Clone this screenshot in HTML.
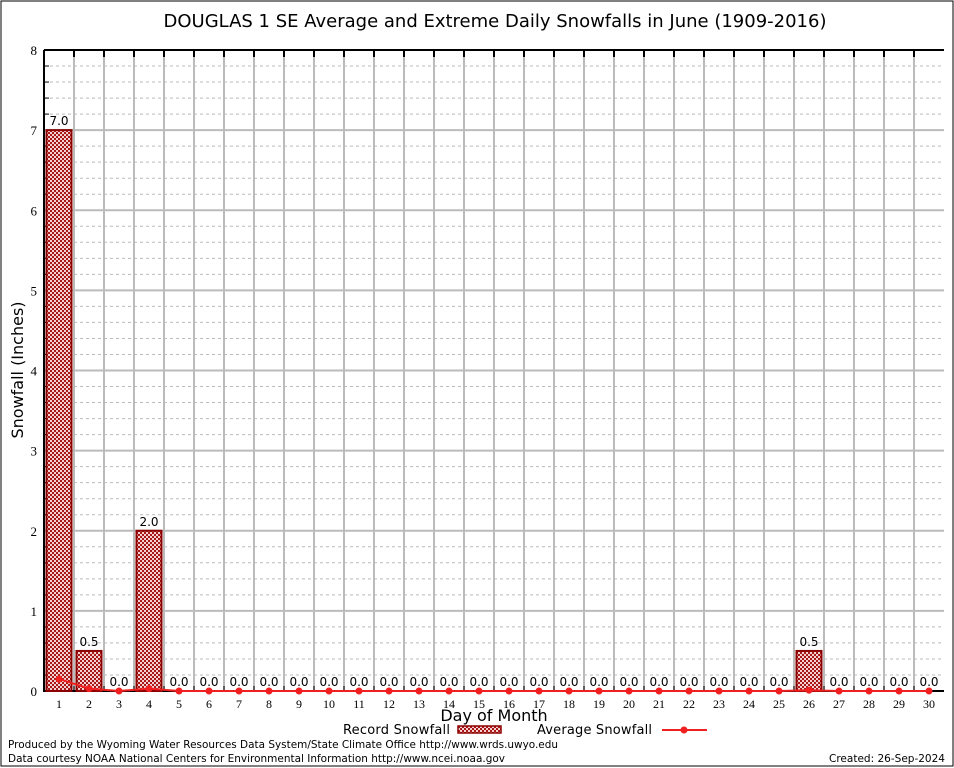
<!DOCTYPE html>
<html><head><meta charset="utf-8"><style>
html,body{margin:0;padding:0;background:#fff;}
svg{display:block;}
text{font-family:"DejaVu Sans","Liberation Sans",sans-serif;}
</style></head><body>
<svg id="chart" width="954" height="768" xmlns="http://www.w3.org/2000/svg">
<defs>
<pattern id="chk" width="4" height="4" patternUnits="userSpaceOnUse">
<rect width="4" height="4" fill="#f4d0d0"/>
<rect width="2" height="2" fill="#a81818"/>
<rect x="2" y="2" width="2" height="2" fill="#a81818"/>
</pattern>
</defs>
<rect x="1" y="1" width="952" height="765" fill="#fff" stroke="#000" stroke-width="1"/>
<text x="495" y="27" font-size="18" text-anchor="middle">DOUGLAS 1 SE Average and Extreme Daily Snowfalls in June (1909-2016)</text>
<text transform="translate(23,370) rotate(-90)" font-size="16" text-anchor="middle">Snowfall (Inches)</text>
<text x="494" y="721" font-size="16" text-anchor="middle">Day of Month</text>
<g id="grid"></g>
<g id="marks"></g>
<g>
<text x="343" y="734" font-size="13" textLength="107">Record Snowfall</text>
<rect x="458" y="726" width="43" height="7" fill="url(#chk)" stroke="#8b0000" stroke-width="1.5"/>
<text x="537" y="734" font-size="13" textLength="115">Average Snowfall</text>
<line x1="662" y1="730" x2="707" y2="730" stroke="#f02020" stroke-width="2"/>
<circle cx="684" cy="730" r="3.5" fill="#f02020"/>
</g>
<text x="8" y="748" font-size="11" textLength="550" lengthAdjust="spacingAndGlyphs">Produced by the Wyoming Water Resources Data System/State Climate Office http://www.wrds.uwyo.edu</text>
<text x="8" y="762" font-size="11" textLength="497" lengthAdjust="spacingAndGlyphs">Data courtesy NOAA National Centers for Environmental Information http://www.ncei.noaa.gov</text>
<text x="945" y="762" font-size="11" text-anchor="end" textLength="116" lengthAdjust="spacingAndGlyphs">Created:  26-Sep-2024</text>
</svg>
<script>
const days = [1,2,3,4,5,6,7,8,9,10,11,12,13,14,15,16,17,18,19,20,21,22,23,24,25,26,27,28,29,30];
const recordSnow = [7.0,0.5,0,2.0,0,0,0,0,0,0,0,0,0,0,0,0,0,0,0,0,0,0,0,0,0,0.5,0,0,0,0];
const avgSnow = [0.15,0.03,0,0.03,0,0,0,0,0,0,0,0,0,0,0,0,0,0,0,0,0,0,0,0,0,0.01,0,0,0,0];
const yTicks = [0,1,2,3,4,5,6,7,8];

const NS="http://www.w3.org/2000/svg";
const X0=44,X1=944,Y0=691,Y1=50,YMAX=8;
const slot=(X1-X0)/days.length;
const xc=i=>X0+slot*(i+0.5);
const y=v=>Y0-(v/YMAX)*(Y0-Y1);
function mk(tag,attrs,parent){const e=document.createElementNS(NS,tag);for(const k in attrs)e.setAttribute(k,attrs[k]);parent.appendChild(e);return e;}
const grid=document.getElementById('grid'),marks=document.getElementById('marks');

for(let v=0;v<YMAX;v+=0.2){
  const isMajor=Math.abs(v-Math.round(v))<1e-6;
  if(isMajor) continue;
  const l=mk('line',{x1:X0,x2:X1,y1:y(v),y2:y(v),stroke:'#bbb','stroke-width':1,'stroke-dasharray':'3,3'},grid);
  
  
  const t=mk('line',{x1:X0,x2:X0+5,y1:y(v),y2:y(v),stroke:'#000'},grid);
  
  
}
yTicks.forEach(v=>{
  const l=mk('line',{x1:X0,x2:X1,y1:y(v),y2:y(v),stroke:'#bbb','stroke-width':2},grid);
  
  
  const t=mk('text',{x:37,y:y(v)+5,'font-size':13,'text-anchor':'end',style:'font-family:"Liberation Serif",serif'},grid);
  t.textContent=v;
  
  
});
for(let i=1;i<days.length;i++){
  const x=X0+slot*i;
  const l=mk('line',{x1:x,x2:x,y1:Y1,y2:Y0,stroke:'#bbb','stroke-width':2},grid);
  
  
  const tk=mk('line',{x1:x,x2:x,y1:Y1,y2:Y1+7,stroke:'#000','stroke-width':2},grid);
  
  
  const bt=mk('line',{x1:x,x2:x,y1:Y0,y2:Y0-5,stroke:'#000','stroke-width':1},grid);
  
  
}
days.forEach((d,i)=>{
  const t=mk('text',{x:xc(i),y:708,'font-size':12,'text-anchor':'middle',style:'font-family:"Liberation Serif",serif'},grid);
  t.textContent=d;
  
  
});
const ax=mk('path',{d:`M${X0} ${Y1}H${X1}M${X0} ${Y1}V${Y0}H${X1}`,fill:'none',stroke:'#000','stroke-width':2},grid);



recordSnow.forEach((v,i)=>{
  if(v>0){
    const r=mk('rect',{x:xc(i)-12.5,y:y(v),width:25,height:Y0-y(v),fill:'url(#chk)',stroke:'#8b0000','stroke-width':2},marks);
    
    
  }
  const t=mk('text',{x:xc(i),y:y(v)-5,'font-size':12,'text-anchor':'middle'},marks);
  t.textContent=v.toFixed(1);
  
  
});
const pl=mk('polyline',{points:avgSnow.map((v,i)=>xc(i)+','+y(v)).join(' '),fill:'none',stroke:'#f02020','stroke-width':2},marks);


avgSnow.forEach((v,i)=>{
  const c=mk('circle',{cx:xc(i),cy:y(v),r:3.5,fill:'#f02020'},marks);
  
  
});
</script>
</body></html>
